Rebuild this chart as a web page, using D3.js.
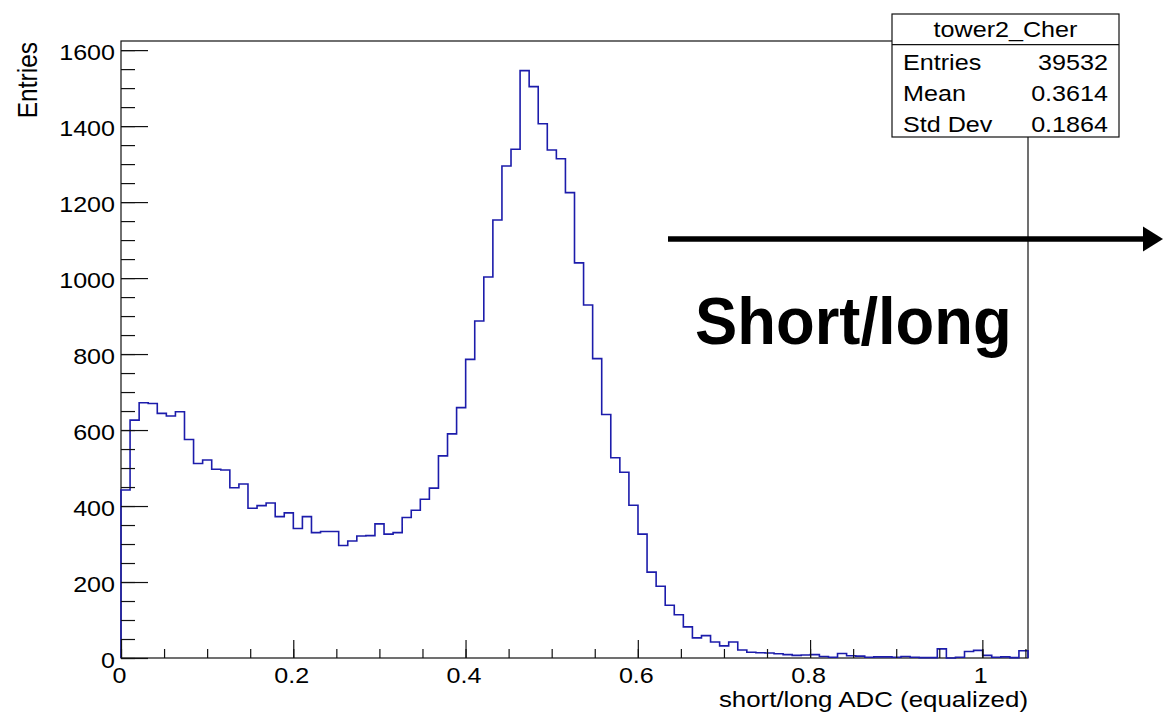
<!DOCTYPE html>
<html>
<head>
<meta charset="utf-8">
<script src="https://cdn.jsdelivr.net/npm/d3@7"></script>
<style>
  body { margin: 0; background: #fff; }
  text { font-family: "Liberation Sans", Arial, Helvetica, sans-serif; fill: #000; }
</style>
</head>
<body>
<script>
// tower2_Cher histogram, short/long ADC ratio

var nBins = 100;
var xMin = 0;
var xMax = 1.053;
var counts = [
  442, 626, 672, 670, 644, 637, 648, 575, 512, 521,
  497, 495, 448, 458, 394, 401, 408, 372, 382, 341,
  372, 330, 333, 333, 296, 308, 321, 322, 353, 326,
  330, 370, 389, 418, 447, 532, 590, 659, 786, 887,
  1003, 1153, 1295, 1339, 1546, 1504, 1406, 1337, 1314, 1225,
  1040, 929, 788, 641, 527, 489, 402, 326, 226, 189,
  139, 114, 82, 53, 59, 42, 32, 42, 21, 15,
  14, 13, 11, 9, 7, 8, 9, 4, 2, 12,
  6, 5, 2, 3, 3, 2, 4, 2, 1, 1,
  24, 0, 2, 17, 20, 7, 2, 3, 1, 19
];
var yMax = 1624;
var yMajorTicks = [0, 200, 400, 600, 800, 1000, 1200, 1400, 1600];
var xMajorTicks = [0, 0.2, 0.4, 0.6, 0.8, 1];
var xTickLabels = ['0', '0.2', '0.4', '0.6', '0.8', '1'];
var statsTitle = 'tower2_Cher';
var statsNames = ['Entries', 'Mean', 'Std Dev'];
var statsValues = ['39532', '0.3614', '0.1864'];

var width = 1165, height = 713;
var frame = {left: 121, right: 1028, top: 41, bottom: 658};

var svg = d3.select('body').append('svg')
            .attr('width', width)
            .attr('height', height);

var x = d3.scaleLinear().domain([xMin, xMax]).range([frame.left, frame.right]);
var y = d3.scaleLinear().domain([0, yMax]).range([frame.bottom, frame.top]);

// text is a bit wider than plain Helvetica in the picture
var addText = function(parent, px, py, str, size, sx, anchor) {
  return parent.append('text')
    .attr('transform', 'translate(' + px + ',' + py + ') scale(' + sx + ',1)')
    .attr('text-anchor', anchor || 'start')
    .style('font-size', size + 'px')
    .text(str);
}

// frame
svg.append('rect')
   .attr('x', frame.left).attr('y', frame.top)
   .attr('width', frame.right - frame.left)
   .attr('height', frame.bottom - frame.top)
   .attr('fill', 'none')
   .attr('stroke', '#111')
   .attr('stroke-width', 1.2);

// histogram outline
var binWidth = (xMax - xMin) / nBins;
var pts = [[xMin, 0]];
counts.forEach(function(c, i) { pts.push([xMin + i * binWidth, c]); });
pts.push([xMax, counts[counts.length - 1]]);
pts.push([xMax, 0]);

var line = d3.line()
  .x(function(d) { return x(d[0]); })
  .y(function(d) { return y(d[1]); })
  .curve(d3.curveStepAfter);

svg.append('path')
   .datum(pts)
   .attr('d', line)
   .attr('fill', 'none')
   .attr('stroke', '#1c1cab')
   .attr('stroke-width', 1.6);

// y axis, ticks pointing inwards
var yMinor = svg.append('g')
  .attr('transform', 'translate(' + frame.left + ',0)')
  .call(d3.axisLeft(y).tickValues(d3.range(0, 1601, 50)).tickSize(-14).tickFormat(''));
yMinor.select('.domain').remove();

var yAxis = svg.append('g')
  .attr('transform', 'translate(' + frame.left + ',0)')
  .call(d3.axisLeft(y).tickValues(yMajorTicks).tickSize(-27).tickFormat(d3.format('d')));
yAxis.select('.domain').remove();
yAxis.selectAll('text')
  .attr('x', null).attr('dy', null)
  .attr('transform', 'translate(-6,9.4) scale(1.14,1)')
  .style('font-size', '22px')
  .style('font-family', '"Liberation Sans", Arial, sans-serif');

// x axis
var xMinor = svg.append('g')
  .attr('transform', 'translate(0,' + frame.bottom + ')')
  .call(d3.axisBottom(x).tickValues(d3.range(0, 1.051, 0.05)).tickSize(-9).tickFormat(''));
xMinor.select('.domain').remove();

var xAxis = svg.append('g')
  .attr('transform', 'translate(0,' + frame.bottom + ')')
  .call(d3.axisBottom(x).tickValues(xMajorTicks).tickSize(-18)
        .tickFormat(function(d, i) { return xTickLabels[i]; }));
xAxis.select('.domain').remove();
xAxis.selectAll('text')
  .attr('y', null).attr('dy', null)
  .attr('transform', 'translate(-2,24.5) scale(1.14,1)')
  .style('font-size', '22px')
  .style('font-family', '"Liberation Sans", Arial, sans-serif');

svg.selectAll('.tick line').attr('stroke', '#111').attr('stroke-width', 1.2);

// axis titles
addText(svg, frame.right, 707, 'short/long ADC (equalized)', 22.5, 1.15, 'end');
svg.append('text')
   .attr('transform', 'translate(37,42) scale(1.15,1) rotate(-90)')
   .attr('text-anchor', 'end')
   .style('font-size', '24.5px')
   .text('Entries');

// stats box
var box = {x: 892, y: 14, w: 227, h: 123, titleH: 30.7};
var stats = svg.append('g');
stats.append('rect')
     .attr('x', box.x).attr('y', box.y)
     .attr('width', box.w).attr('height', box.h)
     .attr('fill', '#fff')
     .attr('stroke', '#111')
     .attr('stroke-width', 1.2);
stats.append('line')
     .attr('x1', box.x).attr('x2', box.x + box.w)
     .attr('y1', box.y + box.titleH).attr('y2', box.y + box.titleH)
     .attr('stroke', '#111')
     .attr('stroke-width', 1.2);
addText(stats, box.x + box.w / 2, 37, statsTitle, 21.5, 1.17, 'middle');
statsNames.forEach(function(name, i) {
  addText(stats, 903, 69.5 + i * 31, name, 21.5, 1.17, 'start');
  addText(stats, 1108, 69.5 + i * 31, statsValues[i], 21.5, 1.17, 'end');
});

// annotation arrow and label
svg.append('line')
   .attr('x1', 668).attr('x2', 1146)
   .attr('y1', 239).attr('y2', 239)
   .attr('stroke', '#000')
   .attr('stroke-width', 5.3);
svg.append('path')
   .attr('d', 'M1143,226.5 L1163,239 L1143,251.5 Z')
   .attr('fill', '#000');

addText(svg, 695, 344, 'Short/long', 66, 0.96, 'start')
   .style('font-weight', 'bold');
</script>
</body>
</html>
